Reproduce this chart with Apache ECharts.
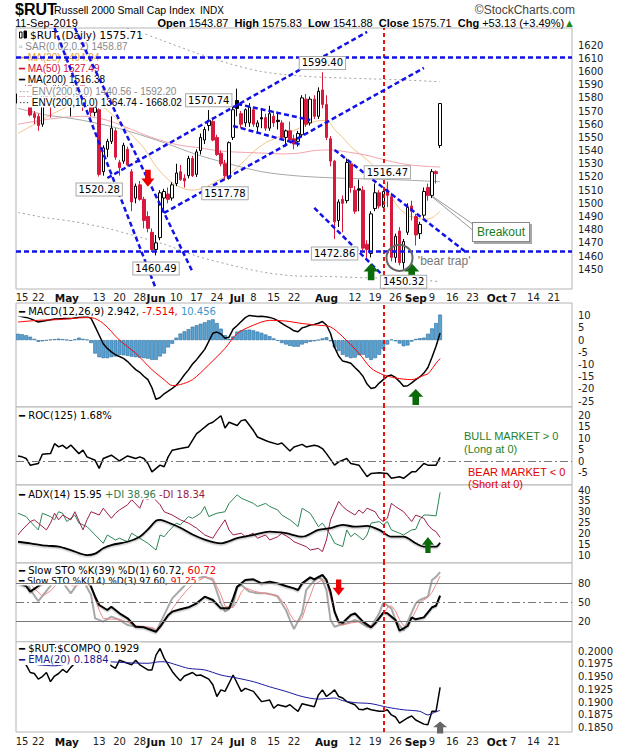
<!DOCTYPE html>
<html><head><meta charset="utf-8">
<script src="https://cdn.jsdelivr.net/npm/echarts@6/dist/echarts.min.js"></script>
<style>html,body{margin:0;padding:0;background:#fff;}#c{width:620px;height:750px;}</style>
</head><body><div id="c"></div>
<script>
// ---------- calendar ----------
const holidays = ['2019-04-19','2019-05-27','2019-07-04','2019-09-02'];
function tradingDays(){
  const out=[]; let t=Date.UTC(2019,3,12); const end=Date.UTC(2019,9,25);
  while(t<=end){const d=new Date(t);const wd=d.getUTCDay();const s=d.toISOString().slice(0,10);
    if(wd!==0&&wd!==6&&holidays.indexOf(s)<0)out.push(s); t+=86400000;}
  return out;
}
const dates = tradingDays();
const tickLabels = [['2019-04-15','15'],['2019-04-22','22'],['2019-05-01','May'],['2019-05-13','13'],['2019-05-20','20'],['2019-05-28','28'],['2019-06-03','Jun'],['2019-06-10','10'],['2019-06-17','17'],['2019-06-24','24'],['2019-07-01','Jul'],['2019-07-08','8'],['2019-07-15','15'],['2019-07-22','22'],['2019-08-01','Aug'],['2019-08-12','12'],['2019-08-19','19'],['2019-08-26','26'],['2019-09-03','Sep'],['2019-09-09','9'],['2019-09-16','16'],['2019-09-23','23'],['2019-10-01','Oct'],['2019-10-07','7'],['2019-10-14','14'],['2019-10-21','21']];
const monthNames = ['May','Jun','Jul','Aug','Sep','Oct'];

// ---------- price (open, high, low, close) ----------
const ohlc = [
[1576,1585,1574,1583],[1583,1586,1573,1576],[1578,1590,1574,1584],[1590,1592,1566,1567],[1568,1570,1560,1565],
[1566,1568,1555,1559],[1560,1588,1558,1586],[1586,1590,1576,1580],[1580,1582,1565,1576],[1576,1591,1574,1590],
[1591,1595,1586,1592],[1590,1593,1579,1591],[1592,1597,1573,1574],[1574,1580,1566,1577],[1580,1600,1578,1597],
[1578,1595,1573,1591],[1591,1593,1570,1574],[1576,1582,1573,1577],[1574,1576,1566,1569],[1569,1576,1566,1573],
[1571,1572,1520.28,1522],[1524,1544,1521,1542],[1541,1549,1535,1547],[1547,1566,1545,1557],[1555,1557,1533,1535],
[1531,1533,1521,1527],[1532,1546,1530,1544],[1541,1543,1528,1529],[1524,1526,1494,1501],[1504,1515,1500,1513],
[1514,1517,1502,1503],[1503,1505,1481,1487],[1490,1494,1478,1481],[1478,1481,1463,1465],[1465,1476,1460.49,1470],
[1474,1510,1472,1508],[1504,1511,1493,1509],[1507,1512,1500,1503],[1504,1516,1502,1514],[1515,1530,1513,1523],
[1524,1529,1517,1518],[1519,1522,1512,1517],[1521,1536,1519,1534],[1534,1536,1520,1521],[1522,1541,1520,1539],
[1540,1553,1537,1550],[1548,1558,1545,1556],[1559,1570.74,1555,1563],[1562,1565,1547,1548],[1550,1552,1536,1537],
[1538,1540,1528,1530],[1530,1533,1517.78,1521],[1519,1547,1518,1546],[1550,1573,1548,1571],[1578,1587,1566,1572],
[1568,1570,1557,1560],[1561,1572,1558,1571],[1561,1576,1558,1573],[1571,1573,1558,1560],[1558,1563,1553,1561],
[1565,1572,1557,1564],[1565,1568,1555,1557],[1557,1574,1555,1568],[1566,1570,1558,1561],[1563,1568,1556,1562],
[1561,1563,1548,1550],[1550,1556,1543,1555],[1555,1562,1546,1548],[1549,1552,1541,1545],[1547,1555,1543,1553],
[1552,1582,1550,1580],[1579,1583,1558,1560],[1561,1581,1559,1579],[1579,1582,1564,1566],[1566,1588,1564,1585],
[1586,1599.40,1572,1575],[1575,1582,1548,1550],[1549,1551,1528,1532],[1532,1533,1472.86,1486],[1487,1503,1482,1501],
[1503,1506,1478,1500],[1502,1534,1500,1531],[1530,1532,1508,1512],[1510,1513,1492,1494],[1511,1518,1494,1510],
[1510,1513,1464,1466],[1469,1472,1457,1465],[1462,1494,1459,1492],[1496,1515,1494,1508],[1508,1510,1496,1498],
[1497,1512,1495,1509],[1510,1516.47,1497,1506],[1505,1508,1456,1459],[1459,1477,1455,1475],[1479,1482,1453,1455],
[1455,1473,1450.32,1471],[1478,1500,1476,1497],[1498,1502,1487,1494],[1490,1492,1468,1476],[1477,1486,1473,1484],
[1491,1512,1489,1509],[1512,1515,1502,1506],[1506,1526,1504,1524],[1524,1525,1515,1522.58],[1543.87,1575.83,1541.88,1575.71]
];
// overlays  [dayIndex, value]
const ma20 = [[0,1553],[4,1560],[8,1567],[12,1573],[16,1578],[20,1575],[24,1565],[28,1552],[31,1542],[34,1528],[37,1518],[40,1512],[43,1510],[46,1512],[49,1517],[52,1522],[55,1530],[58,1539],[61,1546],[64,1550],[67,1554],[70,1558],[73,1562],[76,1563],[78,1556],[80,1550],[82,1543],[84,1538],[86,1533],[88,1527],[90,1518],[92,1505],[94,1496],[96,1491],[98,1489],[100,1488],[102,1489],[104,1494.04]];
const ma50 = [[0,1560],[8,1564],[16,1566],[22,1563],[28,1556],[32,1551],[36,1547],[40,1544],[45,1542],[49,1540],[53,1539],[57,1538.5],[61,1538],[65,1537.5],[69,1538],[73,1540],[77,1540.5],[81,1539],[85,1537],[89,1534],[93,1531],[97,1529],[101,1528],[104,1527.49]];
const ma200 = [[0,1572],[7,1567],[14,1564],[22,1559],[28,1554],[36,1546],[44,1537],[52,1530],[60,1524],[68,1521],[76,1519.5],[86,1518.5],[94,1517.8],[104,1516.38]];
const envUpper = [[22,1637],[28,1632],[36,1623],[44,1614],[52,1606],[60,1600],[68,1597],[76,1595.5],[86,1594.5],[94,1593.7],[104,1592.2]];
const envLower = [[0,1493],[7,1489],[14,1486],[22,1481],[28,1476],[36,1469],[44,1460],[52,1453.5],[60,1448],[68,1445],[76,1444.5],[86,1443.5],[94,1443],[104,1440.56]];

// ---------- indicators ----------
const macdLine = [[0,10.0],[2,9.3],[3,8.8],[5,7.4],[7,8.0],[9,8.6],[11,8.8],[13,8.8],[15,9.4],[17,9.7],[18,8.9],[19,5.5],[20,2.0],[21,-1.5],[22,-3.4],[23,-4.8],[24,-6.0],[25,-6.7],[26,-7.5],[27,-8.8],[28,-10.5],[29,-12.1],[30,-13.2],[31,-14.8],[32,-16.2],[33,-19.5],[34,-24.3],[35,-23.5],[36,-22.0],[37,-20.9],[38,-19.8],[39,-18.5],[40,-16.5],[41,-14.2],[42,-12.2],[43,-9.8],[44,-8.0],[45,-5.9],[46,-3.8],[47,-0.5],[48,2.8],[49,3.3],[50,2.5],[51,0.8],[52,1.2],[53,4.5],[54,6.0],[55,7.6],[56,9.2],[57,10.1],[58,9.9],[59,9.7],[60,9.8],[61,9.6],[62,9.3],[63,8.8],[64,8.0],[65,6.9],[66,5.8],[67,4.9],[68,3.8],[69,3.4],[70,5.0],[71,5.5],[72,6.2],[73,6.4],[74,6.9],[75,7.6],[76,6.2],[77,2.7],[78,-3.0],[79,-6.5],[80,-8.6],[81,-9.0],[82,-9.5],[83,-11.2],[84,-12.8],[85,-14.8],[86,-18.0],[87,-19.8],[88,-19.4],[89,-17.6],[90,-16.2],[91,-14.8],[92,-14.3],[93,-15.3],[94,-17.0],[95,-18.9],[96,-18.7],[97,-17.5],[98,-16.2],[99,-15.1],[100,-13.5],[101,-11.2],[102,-7.0],[103,-2.5],[104,2.942]];
const macdSignal = [[0,7.4],[5,8.1],[10,8.4],[15,9.1],[18,9.2],[21,6.8],[25,0],[29,-5.4],[33,-12.1],[36,-16.2],[38,-18.6],[40,-18.2],[43,-16.2],[47,-10.1],[51,-3.4],[54,2.7],[58,6.1],[62,8.1],[66,7.8],[70,6.8],[74,6.1],[77,5.4],[80,1.4],[84,-5.4],[87,-11.5],[90,-14.2],[93,-15.5],[97,-16.2],[100,-14.4],[101,-13.8],[102,-11.8],[103,-9.5],[104,-7.514]];
const macdHist = [2.6,2.4,2.0,1.4,0.5,-0.7,-0.5,-0.2,0.2,0.4,
0.6,0.4,0.1,-0.3,0.3,1.0,0.5,0.2,-1.2,-5.5,
-7.0,-7.4,-7.4,-7.0,-6.7,-6.0,-6.2,-6.5,-6.8,-7.0,
-7.2,-7.4,-7.6,-8.1,-8.1,-6.7,-5.5,-3.0,-1.5,1.0,
2.7,3.6,4.5,5.5,6.1,6.7,7.3,8.1,8.5,7.0,
4.7,2.0,0.5,1.5,3.5,4.0,4.2,4.3,4.0,3.5,
3.0,2.3,1.6,0.7,-0.3,-1.2,-1.8,-2.4,-2.7,-2.7,
-1.8,-1.2,-0.7,-0.5,0.0,0.7,1.2,-0.5,-3.0,-4.5,
-6.0,-6.8,-7.4,-7.2,-6.2,-6.0,-7.2,-8.1,-7.4,-6.0,
-3.8,-1.8,0.2,-0.5,-1.4,-2.5,-2.2,-0.6,0.5,0.8,
1.0,2.6,4.8,7.0,10.456];
const roc = [[0,2.3],[1,1.9],[2,1.2],[3,-1.7],[5,-1.0],[6,3.0],[8,3.3],[9,7.6],[10,6.2],[11,6.9],[12,5.5],[13,7.0],[15,3.3],[16,4.8],[17,1.9],[19,0.4],[20,-3.1],[21,1.2],[23,2.6],[25,0.1],[26,1.2],[27,2.3],[29,1.2],[30,1.9],[31,1.2],[32,-1.0],[33,-4.6],[35,-1.7],[36,-2.4],[37,1.9],[38,4.8],[40,5.5],[42,6.2],[44,12.0],[45,13.3],[47,16.2],[48,16.9],[50,19.7],[51,14.4],[52,16.9],[54,15.5],[55,17.6],[56,18.0],[58,13.3],[59,10.5],[61,9.0],[62,8.3],[64,7.3],[65,7.9],[67,4.4],[68,6.2],[70,7.3],[71,6.2],[73,6.9],[74,6.5],[75,5.5],[76,3.3],[78,-1.7],[79,-0.3],[81,1.2],[82,-1.0],[84,-1.7],[86,-6.7],[87,-5.3],[89,-5.0],[91,-5.3],[92,-7.4],[94,-6.7],[95,-7.4],[97,-4.6],[98,-4.6],[100,-1.0],[101,-1.7],[103,-1.7],[104,1.68]];
const adx = [[0,16.4],[3,15.7],[7,14.6],[10,14.2],[13,12.6],[17,10.3],[19,11.0],[21,13.4],[23,14.9],[27,16.4],[30,18.7],[32,22.0],[34,26.0],[35,26.4],[37,25.2],[40,22.8],[43,19.7],[46,17.4],[50,15.7],[54,18.0],[58,19.5],[62,21.0],[66,20.3],[70,18.7],[74,21.8],[77,22.6],[80,24.1],[83,23.3],[86,23.6],[89,21.8],[92,18.7],[95,18.7],[98,15.7],[100,14.2],[103,14.2],[104,15.95]];
const plusDI = [[0,29.4],[2,27.9],[3,25.6],[5,21.8],[6,29.4],[8,27.9],[9,26.4],[10,30.1],[11,29.4],[12,25.6],[14,28.6],[15,24.9],[17,23.3],[19,19.5],[21,15.7],[22,19.5],[24,17.2],[25,18.0],[27,16.4],[28,20.3],[30,18.0],[32,15.7],[34,12.6],[35,19.5],[36,18.7],[37,21.0],[39,24.9],[40,24.1],[42,27.9],[43,27.1],[45,29.4],[46,32.5],[47,27.9],[49,29.4],[51,30.1],[52,33.9],[54,37.8],[55,36.3],[56,35.5],[58,33.9],[59,32.5],[61,33.9],[62,32.5],[64,30.9],[65,28.6],[67,26.4],[68,24.9],[69,23.3],[70,31.7],[72,29.4],[73,26.4],[74,23.3],[75,24.9],[77,19.5],[78,15.7],[80,14.2],[81,21.8],[82,18.7],[83,20.3],[85,17.2],[86,19.5],[87,24.9],[89,25.6],[90,24.1],[91,25.6],[92,21.8],[94,20.3],[95,19.5],[97,21.8],[98,22.1],[99,26.4],[100,28.6],[101,28.6],[103,28.2],[104,38.96]];
const minusDI = [[0,19.5],[1,21.8],[3,25.6],[4,26.4],[5,24.9],[7,21.8],[8,24.9],[9,29.4],[10,26.4],[11,28.6],[13,26.4],[14,30.1],[16,21.8],[17,26.4],[18,30.1],[20,28.6],[21,31.7],[23,27.1],[24,29.4],[25,30.9],[27,33.3],[28,35.6],[30,31.7],[31,36.3],[32,35.6],[33,37.1],[35,33.3],[36,30.1],[38,28.6],[40,26.4],[42,24.9],[44,22.6],[46,19.5],[48,18.0],[49,21.0],[51,26.4],[52,21.8],[53,19.5],[55,20.3],[56,18.7],[58,20.3],[59,18.0],[61,19.5],[62,17.2],[64,18.7],[65,20.3],[67,18.0],[68,16.4],[70,14.9],[71,14.2],[72,12.6],[74,13.4],[75,11.9],[76,17.2],[77,26.4],[79,34.8],[80,32.5],[81,30.9],[83,28.6],[84,30.9],[85,29.4],[86,31.7],[88,30.1],[89,27.1],[90,25.6],[91,27.1],[92,33.9],[93,32.5],[95,30.1],[96,27.9],[97,25.6],[98,28.6],[100,27.1],[101,24.1],[102,22.1],[103,21.0],[104,18.34]];
const stoK39 = [[0,80],[2,75.8],[3,67],[5,75.8],[7,84],[10,88],[13,86],[15,90],[17,90.4],[19,59],[20,46.1],[22,38.3],[23,43.5],[25,33.1],[27,25.3],[29,12.2],[31,11.2],[34,4.4],[35,12.2],[37,30.5],[38,35.7],[40,39.4],[42,42.5],[44,48.7],[46,59.1],[48,53.9],[50,40.9],[52,40.9],[53,56.5],[54,74.7],[56,85.2],[58,86.2],[60,79.9],[62,82.6],[64,79.9],[66,75.8],[68,72.1],[69,69.5],[70,79.9],[72,89.3],[73,86.2],[75,93],[76,85.2],[77,67],[78,35.7],[79,20.1],[80,18.5],[82,30.5],[83,33.1],[85,20.1],[87,11.2],[88,17.4],[90,34.1],[91,33.1],[93,22.7],[94,6.0],[96,13.3],[97,26.8],[98,23.7],[100,26.8],[102,42.5],[103,45],[104,60.72]];
const stoK14 = [[0,85],[2,88],[3,70],[5,52],[8,75.8],[10,90.4],[13,64.3],[15,82.6],[16,85.2],[18,61.7],[19,25.3],[21,20.1],[23,27.9],[25,22.7],[27,14.8],[29,12.2],[31,12.2],[33,9.6],[34,4.4],[35,17.4],[37,43.5],[38,56.5],[40,69.5],[42,82.6],[44,87.8],[46,90.4],[48,85.2],[50,48.7],[51,35.7],[53,46.1],[54,74.7],[55,77.3],[57,67],[59,64.3],[61,64.3],[63,61.7],[64,59.1],[66,38.3],[67,22.7],[68,8.6],[70,33.1],[71,69.5],[72,77.3],[74,90.4],[75,85.2],[76,69.5],[77,22.7],[78,12.2],[80,16.4],[81,17.4],[83,22.7],[84,20.1],[86,12.2],[87,12.2],[89,33.1],[90,49.7],[92,40.9],[93,22.7],[95,6.0],[96,20.1],[98,48.7],[99,53.9],[101,59.1],[102,85.2],[103,90],[104,97.6]];
const stoD3 = [[0,84],[2,86],[4,72],[6,60],[8,68],[10,82],[12,80],[14,75],[16,80],[18,75],[19,55],[20,38],[21,25],[23,24],[25,24],[27,19],[29,14],[31,12],[33,11],[34,8],[35,10],[36,20],[37,28],[38,40],[40,57],[42,72],[44,83],[46,89],[48,88],[49,75],[50,62],[51,44],[53,42],[54,52],[55,66],[56,73],[58,68],[60,65],[62,63],[64,61],[65,53],[66,46],[67,32],[68,22],[69,20],[70,25],[71,45],[72,60],[73,78],[74,82],[75,85],[76,82],[77,58],[78,35],[79,17],[80,15],[82,18],[84,20],[86,16],[87,13],[88,19],[89,25],[90,32],[91,42],[92,45],[93,37],[94,23],[95,14],[96,13],[97,25],[98,37],[99,50],[100,54],[101,58],[102,66],[103,78],[104,91.25]];
const ratio = [[0,0.1980],[1,0.1976],[2,0.1973],[3,0.1958],[4,0.1956],[5,0.1945],[6,0.1950],[7,0.1958],[8,0.1940],[9,0.1951],[10,0.1956],[11,0.1964],[12,0.1958],[13,0.1968],[14,0.1976],[16,0.1980],[18,0.1982],[19,0.1985],[20,0.1992],[22,0.1979],[23,0.1971],[24,0.1966],[25,0.1982],[26,0.1979],[28,0.1973],[29,0.1982],[30,0.1973],[32,0.1963],[33,0.1963],[34,0.1992],[35,0.2005],[36,0.1986],[38,0.1960],[39,0.1950],[40,0.1942],[41,0.1951],[43,0.1958],[44,0.1952],[45,0.1953],[47,0.1945],[48,0.1934],[49,0.1911],[50,0.1924],[51,0.1921],[53,0.1953],[54,0.1937],[55,0.1921],[56,0.1927],[58,0.1921],[59,0.1911],[60,0.1901],[62,0.1904],[63,0.1888],[64,0.1895],[66,0.1891],[67,0.1895],[68,0.1888],[69,0.1882],[70,0.1897],[71,0.1895],[73,0.1891],[74,0.1914],[75,0.1924],[76,0.1911],[77,0.1917],[78,0.1924],[79,0.1911],[80,0.1908],[81,0.1901],[83,0.1895],[84,0.1886],[85,0.1885],[86,0.1888],[87,0.1885],[89,0.1882],[90,0.1882],[91,0.1885],[92,0.1875],[93,0.1871],[94,0.1859],[96,0.1869],[97,0.1873],[98,0.1865],[100,0.1857],[101,0.1856],[102,0.1882],[103,0.1882],[104,0.1929]];
const ratioEma = [[0,0.1976],[2,0.1976],[5,0.1973],[9,0.1971],[13,0.1976],[18,0.1977],[22,0.1979],[27,0.1977],[32,0.1976],[35,0.1979],[36,0.1979],[39,0.1973],[42,0.1966],[46,0.1963],[50,0.1953],[54,0.1947],[58,0.1940],[62,0.1930],[66,0.1921],[70,0.1911],[74,0.1906],[78,0.1908],[80,0.1903],[83,0.1899],[87,0.1897],[91,0.1890],[95,0.1885],[99,0.1882],[101,0.1875],[102,0.1878],[104,0.1884]];

// ---------- axis ticks ----------
const priceTicks = [1450,1460,1470,1480,1490,1500,1510,1520,1530,1540,1550,1560,1570,1580,1590,1600,1610,1620];
const macdTicks = [-25,-20,-15,-10,-5,0,5,10];
const rocTicks = [-5,0,5,10,15,20];
const adxTicks = [10,15,20,25,30,35,40];
const stoTicks = [20,50,80];
const ratioTicks = [0.1850,0.1875,0.1900,0.1925,0.1950,0.1975,0.2000];

// ---------- annotations (day index, value) ----------
const callouts = [[75,1606.5,'1599.40'],[47,1578.2,'1570.74'],[51,1507.7,'1517.78'],[20,1510.4,'1520.28'],[34,1450.6,'1460.49'],[78,1462,'1472.86'],[91,1523.6,'1516.47'],[95,1440.5,'1450.32']];
const trendLines = [[9,1633,34,1435],[14,1633,43,1448],[36,1492.7,100,1602.7],[22,1519.2,86,1630],[54,1575.4,72,1563.2],[53,1558.7,70,1544.3],[78,1540.5,110,1463.9],[73,1496.5,90,1444.9]];
const levelLines = [1611,1464];
const markerDay = 90;

const RED='#d7193e', FONT='DejaVu Sans', SANS='Liberation Sans';
const UP='path://M50,0 L100,48 L72,48 L72,100 L28,100 L28,48 L0,48 Z';
const DOWN='path://M28,0 L72,0 L72,52 L100,52 L50,100 L0,52 L28,52 Z';

const candleData = ohlc.map((r,i)=>{const [o,h,l,c]=r;const prev=i>0?ohlc[i-1][3]:c;
  const col=c<prev?RED:'#000';const fill=c>o?'#fff':col;
  return {value:[o,c,l,h],itemStyle:{color:fill,color0:fill,borderColor:col,borderColor0:col}};});

const tickMap = new Map(tickLabels);
const grids = [[28,261],[303,104],[407,78],[485,78],[563,79],[642,90]].map(g=>({left:16,width:556,top:g[0],height:g[1],show:true,borderColor:'#b4b4b4',borderWidth:1,backgroundColor:'#fff'}));
const xAxes = grids.map((g,i)=>({type:'category',gridIndex:i,data:dates,boundaryGap:true,axisLine:{show:false},axisTick:{show:false},splitLine:{show:false},
  axisLabel:(i===0||i===5)?{show:true,margin:i===0?3:4,interval:(idx,v)=>tickMap.has(v),fontSize:10,fontFamily:FONT,color:'#222',
    formatter:(v)=>{const t=tickMap.get(v)||'';return monthNames.indexOf(t)>=0?'{b|'+t+'}':t;},rich:{b:{fontWeight:'bold',fontSize:10.5,fontFamily:FONT,color:'#111'}}}:{show:false}}));
function yAx(i,min,max,ticks,fmt){return {type:'value',gridIndex:i,position:'right',min,max,axisLine:{show:false},axisTick:{show:false},splitLine:{show:false},
  axisLabel:{customValues:ticks,margin:6,fontSize:10,fontFamily:FONT,color:'#222',formatter:fmt||(v=>String(v))}};}
const yAxes=[yAx(0,1435,1633,priceTicks),yAx(1,-27.4,15.2,macdTicks),yAx(2,-10.3,23.5,rocTicks),yAx(3,6.7,42.3,adxTicks),yAx(4,-11.7,111.7,stoTicks),yAx(5,0.18416,0.20176,ratioTicks,v=>v.toFixed(4))];

const vline = {xAxis:markerDay,lineStyle:{color:'#ee1111',type:[4,3],width:2}};
function ml(items){return {silent:true,symbol:['none','none'],label:{show:false},animation:false,data:items};}
function line(name,gi,data,color,width,extra){return Object.assign({type:'line',name,xAxisIndex:gi,yAxisIndex:gi,data,symbol:'none',lineStyle:{color,width},itemStyle:{color},z:2,animation:false},extra||{});}
function arrow(k,v,path,w,h,color){return {coord:[k,v],symbol:path,symbolSize:[w,h],itemStyle:{color,borderWidth:0},label:{show:false}};}
function textMark(k,v,txt,lbl){return {coord:[k,v],symbol:'rect',symbolSize:1,itemStyle:{color:'rgba(0,0,0,0)',borderWidth:0},label:Object.assign({show:true,position:'inside',formatter:txt,fontFamily:FONT,fontSize:10,color:'#000'},lbl||{})};}

const priceMarks = callouts.map(c=>textMark(c[0],c[1],c[2],{backgroundColor:'#fff',borderColor:'#a8a8a8',borderWidth:1,padding:[1,2]}));
priceMarks.push(arrow(32,1519,DOWN,13,17,'#ee0000'));
priceMarks.push(arrow(87,1448,UP,15,17,'#0b6b0b'));
priceMarks.push(arrow(97,1448,UP,15,17,'#0b6b0b'));
priceMarks.push({coord:[94,1458.6],symbol:'circle',symbolSize:26,itemStyle:{color:'rgba(0,0,0,0)',borderColor:'#666',borderWidth:2},label:{show:false}});
priceMarks.push(textMark(105,1456,"'bear trap'",{fontFamily:SANS,fontSize:12,color:'#777'}));
priceMarks.push(textMark(119,1478.3,'Breakout',{fontFamily:SANS,fontSize:12,color:'#1a7d1a',backgroundColor:'#fff',borderColor:'#888',borderWidth:1,padding:[3,4],shadowColor:'rgba(0,0,0,0.35)',shadowOffsetX:2,shadowOffsetY:2,shadowBlur:1}));

const blue={color:'#1212e8',type:[5,3],width:2.5};
const trendItems = trendLines.map(t=>[{coord:[t[0],t[1]],lineStyle:blue},{coord:[t[2],t[3]]}]);
levelLines.forEach(v=>trendItems.push({yAxis:v,lineStyle:blue}));
trendItems.push([{coord:[102,1505.6],lineStyle:{color:'#999',type:'solid',width:1}},{coord:[112,1484.4]}]);
trendItems.push([{coord:[102,1505],lineStyle:{color:'#999',type:'solid',width:1}},{coord:[112,1479.8]}]);

const dashDot={color:'#777',type:[8,3,2,3],width:1};
const series=[
 {type:'candlestick',name:'RUT',xAxisIndex:0,yAxisIndex:0,data:candleData,barWidth:3,z:2,animation:false,markLine:ml([vline])},
 line('MA20',0,ma20,'#f1c488',1,{smooth:0.3}),
 line('MA50',0,ma50,'#f2a3ab',1,{smooth:0.3}),
 line('MA200',0,ma200,'#a8a8a8',1,{smooth:0.3}),
 line('ENVU',0,envUpper,'#a0a0a0',1,{smooth:0.3,lineStyle:{color:'#a0a0a0',width:1,type:[2,3]},markPoint:{silent:true,animation:false,data:priceMarks}}),
 line('ENVL',0,envLower,'#a0a0a0',1,{smooth:0.3,lineStyle:{color:'#a0a0a0',width:1,type:[2,3]},markLine:ml(trendItems)}),
 {type:'bar',name:'Hist',xAxisIndex:1,yAxisIndex:1,data:macdHist,barWidth:'92%',itemStyle:{color:'#58a2d4',borderColor:'#2b6b98',borderWidth:0.6},z:1,animation:false},
 line('MACD',1,macdLine,'#000',1.5,{markLine:ml([vline]),markPoint:{silent:true,animation:false,data:[arrow(98,-23.3,UP,15,16,'#0b6b0b')]}}),
 line('Signal',1,macdSignal,'#ff0000',1,{smooth:0.3}),
 line('ROC',2,roc,'#000',1.5,{markLine:ml([{yAxis:0,lineStyle:dashDot},vline])}),
 line('+DI',3,plusDI,'#2e8455',1),
 line('-DI',3,minusDI,'#9e1d4a',1),
 line('ADX',3,adx,'#000',1.8,{smooth:0.3,lineStyle:{color:'#000',width:1.8,shadowColor:'rgba(0,0,0,0.2)',shadowOffsetY:1.5},markLine:ml([vline]),markPoint:{silent:true,animation:false,data:[arrow(101,14.9,UP,12,16,'#0b6b0b')]}}),
 line('K14',4,stoK14,'#a8a8a8',2,{markLine:ml([{yAxis:80,lineStyle:{color:'#777',type:'solid',width:1}},{yAxis:20,lineStyle:{color:'#777',type:'solid',width:1}},{yAxis:50,lineStyle:dashDot},vline])}),
 line('D3',4,stoD3,'#f08a8a',1),
 line('K39',4,stoK39,'#000',2,{lineStyle:{color:'#000',width:2,shadowColor:'rgba(0,0,0,0.2)',shadowOffsetY:1.5},markPoint:{silent:true,animation:false,data:[arrow(79,73.6,DOWN,12,16,'#ee0000')]}}),
 line('Ratio',5,ratio,'#000',1.5,{markLine:ml([vline]),markPoint:{silent:true,animation:false,data:[arrow(104,0.18504,UP,14,12,'#666')]}}),
 line('EMA',5,ratioEma,'#1a1a9a',1,{smooth:0.3})
];

// ---------- text (legends / header) ----------
function rtext(x,y,segs,size,bg,family,align){
  const rich={};let s='';segs.forEach((g,i)=>{rich['s'+i]={fill:g[1],color:g[1],fontSize:size,fontFamily:family||FONT,fontWeight:g[2]||'normal',lineHeight:size+1};s+='{s'+i+'|'+g[0]+'}';});
  const st={text:s,rich,verticalAlign:'middle',textVerticalAlign:'middle',align:align||'left',textAlign:align||'left',fontSize:size,fontFamily:family||FONT};
  if(bg){st.backgroundColor='#fff';st.padding=[0,2];}
  return {type:'text',x,y,z:3,silent:true,style:st};
}
const G='#8a8a8a';
const graphics=[
 rtext(15,9,[['$RUT','#000','bold']],16,false,SANS),
 rtext(54,10,[['Russell 2000 Small Cap Index','#000']],10.5,false,SANS),
 rtext(200,10,[['INDX','#000']],10,false,SANS),
 rtext(575,10,[['©StockCharts.com','#444']],12,false,SANS,'right'),
 rtext(15,23,[['11-Sep-2019','#000']],11,false,SANS),
 rtext(575,23,[['Open ','#000','bold'],['1543.87  ','#000'],['High ','#000','bold'],['1575.83  ','#000'],['Low ','#000','bold'],['1541.88  ','#000'],['Close ','#000','bold'],['1575.71  ','#000'],['Chg ','#000','bold'],['+53.13 (+3.49%)','#000'],['▲','#1a8a1a']],11,false,SANS,'right'),
 {type:'rect',z:3,silent:true,shape:{x:17,y:29,width:12,height:12},style:{fill:'#fff'}},
 {type:'rect',z:4,silent:true,shape:{x:19.5,y:32,width:2.5,height:6},style:{fill:'#fff',stroke:'#000',lineWidth:1}},
 {type:'rect',z:4,silent:true,shape:{x:24,y:31,width:2.5,height:7},style:{fill:'#000',stroke:'#000',lineWidth:1}},
 rtext(28,35,[['$RUT (Daily) 1575.71','#000']],10.5,true),
 rtext(17,46.5,[['▫ SAR(0.02,0.2) 1458.87',G]],10,true,SANS),
 rtext(17,57.5,[['━ MA(20) 1494.04','#e5a03a']],10,true,SANS),
 rtext(17,68.5,[['━ MA(50) 1527.49','#d0103a']],10,true,SANS),
 rtext(17,79.5,[['━ MA(200) 1516.38','#000']],10,true,SANS),
 rtext(17,91,[['··· ENV(200,5.0) 1440.56 - 1592.20',G]],10,true,SANS),
 rtext(17,102,[['··· ENV(200,10.0) 1364.74 - 1668.02','#000']],10,true,SANS),
 rtext(17,311,[['━ MACD(12,26,9) 2.942, ','#000'],['-7.514, ','#ee0000'],['10.456','#3a96d0']],10,true),
 rtext(17,415,[['━ ROC(125) 1.68%','#000']],10,true),
 rtext(464,436,[['BULL MARKET > 0','#1f7f1f']],11,false,SANS),
 rtext(464,449,[['(Long at 0)','#1f7f1f']],11,false,SANS),
 rtext(468,471.5,[['BEAR MARKET < 0','#e00000']],11,false,SANS),
 rtext(468,484,[['(Short at 0)','#e00000']],11,false,SANS),
 rtext(17,494,[['━ ADX(14) 15.95 ','#000'],['+DI 38.96 ','#2e7d4f'],['-DI 18.34','#9b1b45']],10,true),
 rtext(17,570.5,[['━ Slow STO %K(39) %D(1) 60.72, ','#000'],['60.72','#ee0000']],10,true),
 rtext(17,580.5,[['━ Slow STO %K(14) %D(3) 97.60, ','#000'],['91.25','#ee0000']],9,true),
 rtext(17,648,[['━ $RUT:$COMPQ 0.1929','#000']],10,true),
 rtext(17,659.5,[['━ EMA(20) 0.1884','#1a1a8c']],10,true)
];

const chart = echarts.init(document.getElementById('c'),null,{renderer:'svg'});
chart.setOption({animation:false,backgroundColor:'#fff',grid:grids,xAxis:xAxes,yAxis:yAxes,series,graphic:{elements:graphics}});
</script></body></html>
